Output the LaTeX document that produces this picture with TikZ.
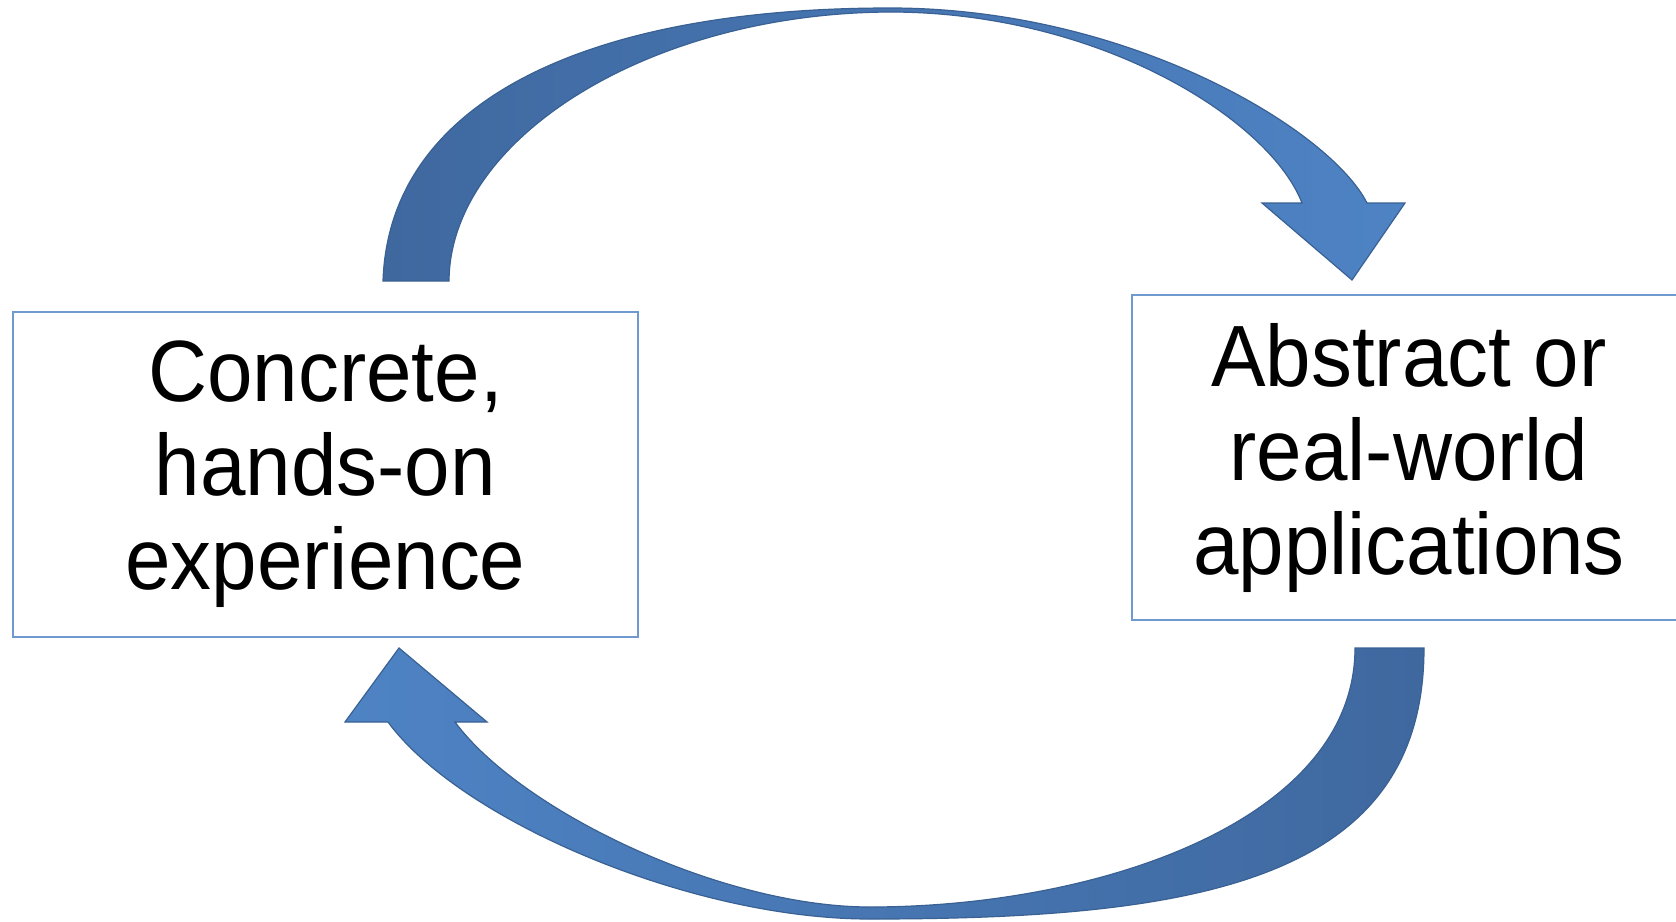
\documentclass[tikz,border=0pt]{standalone}
\usepackage{fontspec}
\setmainfont{Liberation Sans}[FakeStretch=0.94]
\definecolor{boxblue}{HTML}{6F9AD0}
\definecolor{arrowedge}{HTML}{3A6193}
\definecolor{arrowdark}{HTML}{3F689F}
\definecolor{arrowlight}{HTML}{4E83C4}
\begin{document}
\begin{tikzpicture}[x=1pt,y=-1pt,
  box/.style={draw=boxblue, line width=2.5pt, inner sep=0pt, align=center,
              minimum height=325pt, font=\fontsize{87}{94}\selectfont},
  blockarrow/.style={draw=arrowedge, line width=1.2pt, line join=miter}]
\useasboundingbox (0,0) rectangle (1676,921);
\clip (0,0) rectangle (1676,921);
\fill[white] (0,0) rectangle (1676,921);

% boxes
\node[box, minimum width=625pt] (concrete) at (325.5,474.5) {Concrete,\\hands-on\\experience};
\node[box, minimum width=554pt] (abstract) at (1409,457.5) {Abstract or\\real-world\\applications};

% named ends of the block arrows
\coordinate (topTailO) at (383,281);
\coordinate (topTailI) at (449,281);
\coordinate (topTip) at (1352,280);
\coordinate (botTailO) at (1424,648);
\coordinate (botTailI) at (1355,648);
\coordinate (botTip) at (399,648);

% top arrow: concrete -> abstract
\path[blockarrow, left color=arrowdark, right color=arrowlight]
  (topTailO) .. controls (389,102) and (585,8) .. (890,8)
  .. controls (1130,8) and (1330,130) .. (1367,203)
  -- (1405,203) -- (topTip) -- (1262,203) -- (1302,203)
  .. controls (1270,120) and (1100,12) .. (890,12)
  .. controls (650,13) and (450,138) .. (topTailI) -- cycle;

% bottom arrow: abstract -> concrete
\path[blockarrow, left color=arrowlight, right color=arrowdark]
  (botTailO) .. controls (1424,880) and (1200,919) .. (870,919)
  .. controls (690,919) and (460,820) .. (388,722)
  -- (345,722) -- (botTip) -- (487,722) -- (455,722)
  .. controls (520,810) and (720,907) .. (870,907)
  .. controls (1100,907) and (1355,820) .. (botTailI) -- cycle;
\end{tikzpicture}
\end{document}
